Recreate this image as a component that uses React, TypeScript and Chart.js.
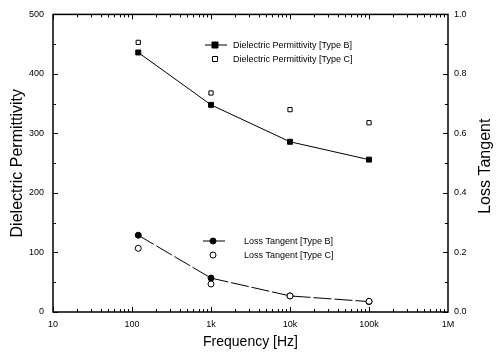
import React, { useEffect, useRef } from "react";
import { Chart, registerables } from "chart.js";

Chart.register(...registerables);

const frequencies = [120, 1000, 10000, 100000];
const permTypeB = [436, 348, 286, 256];
const permTypeC = [453, 368, 340, 318];
const lossTypeB = [0.258, 0.114, 0.054, 0.035];
const lossTypeC = [0.214, 0.094, 0.054, 0.036];

const xTickValues = [10, 100, 1000, 10000, 100000, 1000000];
const xTickLabels = ["10", "100", "1k", "10k", "100k", "1M"];

const permLegend = ["Dielectric Permittivity [Type B]", "Dielectric Permittivity [Type C]"];
const lossLegend = ["Loss Tangent [Type B]", "Loss Tangent [Type C]"];
const leftTitle = "Dielectric Permittivity";
const rightTitle = "Loss Tangent";
const bottomTitle = "Frequency [Hz]";

const FONT = "'Liberation Sans', Arial, sans-serif";

const frame = {
  id: "frame",
  afterDraw(chart: any) {
    const ctx = chart.ctx;
    const { left, right, top, bottom } = chart.chartArea;
    const x = chart.scales.x;
    const y = chart.scales.y;
    const y1 = chart.scales.y1;
    ctx.save();
    ctx.strokeStyle = "#000";
    ctx.lineWidth = 1.5;
    ctx.strokeRect(left, top, right - left, bottom - top);
    ctx.lineWidth = 1;
    ctx.beginPath();
    for (let d = 10; d < 1000000; d *= 10) {
      for (let m = 1; m < 10; m++) {
        const px = Math.round(x.getPixelForValue(d * m)) + 0.5;
        const len = m === 1 ? 5 : 3;
        ctx.moveTo(px, bottom);
        ctx.lineTo(px, bottom - len);
        ctx.moveTo(px, top);
        ctx.lineTo(px, top + len);
      }
    }
    for (let v = 0; v <= 500; v += 50) {
      const py = Math.round(y.getPixelForValue(v)) + 0.5;
      const len = v % 100 === 0 ? 5 : 3;
      ctx.moveTo(left, py);
      ctx.lineTo(left + len, py);
    }
    for (let i = 0; i <= 10; i++) {
      const v = i / 10;
      const py = Math.round(y1.getPixelForValue(v)) + 0.5;
      const len = i % 2 === 0 ? 5 : 3;
      ctx.moveTo(right, py);
      ctx.lineTo(right - len, py);
    }
    ctx.stroke();

    ctx.fillStyle = "#000";
    ctx.font = `16px ${FONT}`;
    ctx.textAlign = "center";
    ctx.textBaseline = "middle";
    ctx.translate(486, (top + bottom) / 2 + 3);
    ctx.rotate(-Math.PI / 2);
    ctx.fillText(rightTitle, 0, 0);
    ctx.restore();

    ctx.save();
    ctx.font = `9px ${FONT}`;
    ctx.textBaseline = "middle";
    ctx.textAlign = "left";
    ctx.fillStyle = "#000";
    ctx.strokeStyle = "#000";
    const drawRow = (
      lx: number,
      ly: number,
      tx: number,
      text: string,
      shape: "rect" | "circle",
      filled: boolean,
      line: boolean,
      dash: number[]
    ) => {
      if (line) {
        ctx.lineWidth = 1;
        ctx.setLineDash(dash);
        ctx.beginPath();
        ctx.moveTo(lx - 10, ly);
        ctx.lineTo(lx + 12, ly);
        ctx.stroke();
        ctx.setLineDash([]);
      }
      ctx.beginPath();
      if (shape === "rect") {
        const s = filled ? 6 : 5;
        ctx.rect(lx - s / 2, ly - s / 2, s, s);
      } else {
        ctx.arc(lx, ly, 3, 0, Math.PI * 2);
      }
      ctx.fillStyle = filled ? "#000" : "#fff";
      ctx.fill();
      ctx.lineWidth = 1;
      ctx.stroke();
      ctx.fillStyle = "#000";
      ctx.fillText(text, tx, ly + 1);
    };
    drawRow(215, 45, 233, permLegend[0], "rect", true, true, []);
    drawRow(215, 59, 233, permLegend[1], "rect", false, false, []);
    drawRow(213, 241, 244, lossLegend[0], "circle", true, true, []);
    drawRow(213, 255, 244, lossLegend[1], "circle", false, false, []);
    ctx.restore();
  },
};

export default function App() {
  const ref = useRef<HTMLCanvasElement>(null);
  useEffect(() => {
    if (!ref.current) return;
    const pts = (ys: number[]) => frequencies.map((f, i) => ({ x: f, y: ys[i] }));
    const chart = new Chart(ref.current, {
      type: "line",
      data: {
        datasets: [
          {
            label: permLegend[0],
            data: pts(permTypeB),
            yAxisID: "y",
            order: 2,
            borderColor: "#000",
            backgroundColor: "#000",
            borderWidth: 1,
            pointStyle: "rect",
            pointRadius: 3.5,
            pointBorderWidth: 1,
            showLine: true,
          },
          {
            label: permLegend[1],
            data: pts(permTypeC),
            yAxisID: "y",
            order: 1,
            borderColor: "#000",
            backgroundColor: "#fff",
            pointStyle: "rect",
            pointRadius: 3,
            pointBorderWidth: 1,
            showLine: false,
          },
          {
            label: lossLegend[0],
            data: pts(lossTypeB),
            yAxisID: "y1",
            order: 2,
            borderColor: "#000",
            backgroundColor: "#000",
            borderWidth: 1,
            borderDash: [18, 3],
            pointStyle: "circle",
            pointRadius: 3,
            pointBorderWidth: 1,
            showLine: true,
          },
          {
            label: lossLegend[1],
            data: pts(lossTypeC),
            yAxisID: "y1",
            order: 0,
            borderColor: "#000",
            backgroundColor: "#fff",
            pointStyle: "circle",
            pointRadius: 3,
            pointBorderWidth: 1,
            showLine: false,
          },
        ],
      },
      options: {
        responsive: false,
        animation: false,
        layout: { padding: { top: 13, left: 0, right: 0, bottom: 0 } },
        plugins: { legend: { display: false }, tooltip: { enabled: false } },
        scales: {
          x: {
            type: "logarithmic",
            min: 10,
            max: 1000000,
            grid: { display: false, drawTicks: false },
            border: { display: false },
            afterBuildTicks: (s: any) => {
              s.ticks = xTickValues.map((v) => ({ value: v }));
            },
            afterFit: (s: any) => {
              s.height = 43;
            },
            ticks: {
              autoSkip: false,
              maxRotation: 0,
              padding: 7,
              color: "#000",
              font: { family: FONT, size: 9 },
              callback: (v: any) => {
                const i = xTickValues.indexOf(Number(v));
                return i >= 0 ? xTickLabels[i] : "";
              },
            },
            title: {
              display: true,
              text: bottomTitle,
              color: "#000",
              font: { family: FONT, size: 14 },
              padding: { top: 4, bottom: 4 },
            },
          },
          y: {
            type: "linear",
            position: "left",
            min: 0,
            max: 500,
            grid: { display: false, drawTicks: false },
            border: { display: false },
            afterFit: (s: any) => {
              s.width = 53;
            },
            ticks: {
              stepSize: 100,
              padding: 9,
              color: "#000",
              font: { family: FONT, size: 9 },
            },
            title: {
              display: true,
              text: leftTitle,
              color: "#000",
              font: { family: FONT, size: 16 },
              padding: { top: 8, bottom: 0 },
            },
          },
          y1: {
            type: "linear",
            position: "right",
            min: 0,
            max: 1,
            grid: { display: false, drawTicks: false },
            border: { display: false },
            afterFit: (s: any) => {
              s.width = 49;
            },
            ticks: {
              stepSize: 0.2,
              padding: 6,
              color: "#000",
              font: { family: FONT, size: 9 },
              callback: (v: any) => Number(v).toFixed(1),
            },
          },
        },
      },
      plugins: [frame],
    } as any);
    return () => chart.destroy();
  }, []);
  return (
    <div style={{ position: "fixed", left: 0, top: 0, width: 497, height: 355, background: "#fff" }}>
      <canvas ref={ref} width={497} height={355} />
    </div>
  );
}
